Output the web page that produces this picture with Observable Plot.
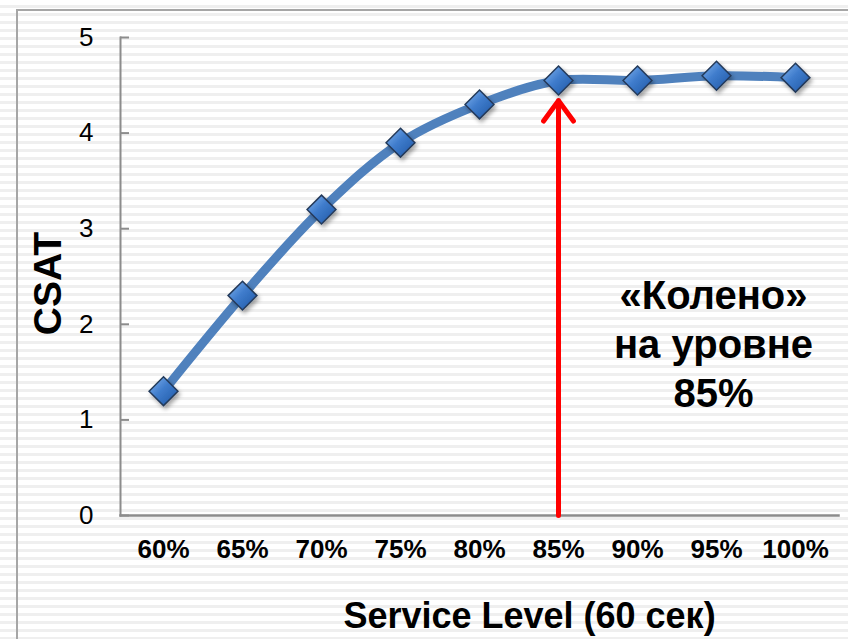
<!DOCTYPE html>
<html>
<head>
<meta charset="utf-8">
<script src="https://cdn.jsdelivr.net/npm/d3@7"></script>
<script src="https://cdn.jsdelivr.net/npm/@observablehq/plot@0.6"></script>
<style>
  html, body { margin: 0; padding: 0; }
  body {
    width: 848px; height: 639px; overflow: hidden; position: relative;
    background: repeating-linear-gradient(to bottom, #ffffff 0px, #ffffff 5px, #efefef 5px, #efefef 8px);
    font-family: "Liberation Sans", Arial, sans-serif;
  }
  #box { position: absolute; left: 16px; top: 9px; width: 900px; height: 700px; border: 2px solid #a6a6a6; box-sizing: border-box; }
  #chart { position: absolute; left: 0; top: 0; }
  #chart svg { background: transparent !important; overflow: visible; }
</style>
</head>
<body>
<div id="box"></div>
<div id="chart"></div>
<script>
const categories = ["60%", "65%", "70%", "75%", "80%", "85%", "90%", "95%", "100%"];
const csat = [1.3, 2.3, 3.2, 3.9, 4.3, 4.55, 4.55, 4.6, 4.58];
const yTicks = [0, 1, 2, 3, 4, 5];
const kneeCategory = "85%";
const kneeArrowTop = 4.34;
const annotation = "«Колено»\nна уровне\n85%";
const annotationAt = { x: "95%", y: 1.81 };
const xTitle = "Service Level (60 сек)";
const yTitle = "CSAT";

const data = categories.map((c, i) => ({ sl: c, csat: csat[i] }));
const font = "'Liberation Sans', Arial, sans-serif";

const plot = Plot.plot({
  width: 848,
  height: 639,
  marginLeft: 120,
  marginTop: 37,
  marginBottom: 124,
  marginRight: 10,
  style: { background: "transparent", fontFamily: font, overflow: "visible" },
  x: { type: "point", domain: categories, padding: 0.5, label: null },
  y: { domain: [0, 5], label: null },
  marks: [
    Plot.axisX({ tickSize: 0, tickPadding: 24, fontSize: 26, fontWeight: "bold", fill: "#000", label: null }),
    Plot.axisY({ ticks: yTicks, tickSize: -9, tickPadding: 36, fontSize: 26, stroke: "#8c8c8c", strokeWidth: 2, strokeOpacity: 1, fill: "#000", label: null, tickFormat: d => String(d) }),
    Plot.frame({ anchor: "left", stroke: "#8c8c8c", strokeWidth: 2 }),
    Plot.frame({ anchor: "bottom", stroke: "#8c8c8c", strokeWidth: 2.5 }),
    Plot.arrow([kneeCategory], { x1: d => d, x2: d => d, y1: 0, y2: kneeArrowTop, stroke: "#ff0000", strokeWidth: 5, headLength: 7.6, headAngle: 72, insetEnd: 0 }),
    Plot.line(data, { x: "sl", y: "csat", stroke: "#4f81bd", strokeWidth: 9, curve: "catmull-rom" }),
    Plot.dot(data, { x: "sl", y: "csat", symbol: "diamond2", r: 13, fill: "#3f7ccc", stroke: "#243a5a", strokeWidth: 1.5, fillOpacity: 1 }),
    Plot.text([annotation], { x: () => annotationAt.x, y: () => annotationAt.y, text: d => d, fontSize: 40, fontWeight: "bold", lineHeight: 1.22, textAnchor: "middle", lineAnchor: "middle", fill: "#000", dx: -3 }),
    Plot.text([xTitle], { frameAnchor: "bottom", text: d => d, fontSize: 36, fontWeight: "bold", lineAnchor: "middle", textAnchor: "middle", dy: 101, dx: 50, fill: "#000" }),
    Plot.text([yTitle], { frameAnchor: "left", text: d => d, fontSize: 39, fontWeight: "bold", rotate: -90, textAnchor: "middle", lineAnchor: "middle", dx: -72, dy: 7, fill: "#000" })
  ]
});

// add gradient + shadow defs
const ns = "http://www.w3.org/2000/svg";
const defs = document.createElementNS(ns, "defs");
defs.innerHTML = `
  <linearGradient id="diamondGrad" x1="0" y1="0" x2="1" y2="1">
    <stop offset="0" stop-color="#86b6f0"/>
    <stop offset="0.45" stop-color="#3f7ccc"/>
    <stop offset="1" stop-color="#1d56a3"/>
  </linearGradient>
  <filter id="dshadow" x="-50%" y="-50%" width="200%" height="200%">
    <feDropShadow dx="2" dy="3" stdDeviation="2" flood-color="#000" flood-opacity="0.35"/>
  </filter>`;
plot.insertBefore(defs, plot.firstChild);
d3.select(plot).selectAll("g[aria-label='dot'] path")
  .attr("fill", "url(#diamondGrad)")
  .attr("filter", "url(#dshadow)");
document.getElementById("chart").appendChild(plot);
</script>
</body>
</html>
